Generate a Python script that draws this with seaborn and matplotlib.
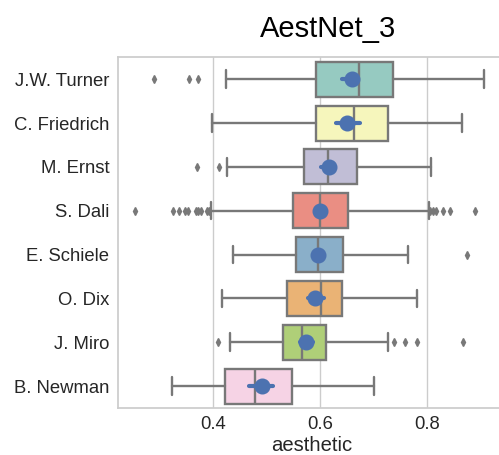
import numpy as np
import seaborn as sns
import matplotlib
matplotlib.use("Agg")
import matplotlib.pyplot as plt

# values
painters = ["J.W. Turner", "C. Friedrich", "M. Ernst", "S. Dali",
            "E. Schiele", "O. Dix", "J. Miro", "B. Newman"]
whis_lo = [0.424, 0.399, 0.427, 0.397, 0.438, 0.417, 0.432, 0.324]
q1 = [0.592, 0.593, 0.570, 0.549, 0.556, 0.539, 0.531, 0.422]
median = [0.673, 0.663, 0.614, 0.600, 0.597, 0.602, 0.567, 0.478]
q3 = [0.736, 0.727, 0.668, 0.652, 0.642, 0.640, 0.612, 0.547]
whis_hi = [0.906, 0.865, 0.806, 0.803, 0.764, 0.780, 0.727, 0.700]
outliers = [
    [0.290, 0.355, 0.372],
    [],
    [0.370, 0.412],
    [0.255, 0.325, 0.338, 0.348, 0.354, 0.368, 0.373, 0.379, 0.389, 0.393,
     0.805, 0.811, 0.816, 0.829, 0.842, 0.888],
    [0.873],
    [],
    [0.409, 0.738, 0.759, 0.780, 0.867],
    [],
]
means = [0.659, 0.651, 0.616, 0.600, 0.597, 0.591, 0.573, 0.491]
ci_lo = [0.640, 0.629, 0.602, 0.594, 0.590, 0.577, 0.562, 0.468]
ci_hi = [0.668, 0.674, 0.628, 0.606, 0.604, 0.607, 0.586, 0.512]

sns.set_theme(style="whitegrid")
plt.rcParams['font.family'] = ['Liberation Sans', 'DejaVu Sans']

fig = plt.figure(figsize=(4.99, 4.55), dpi=100)
# right edge of the axes runs just past the picture, as in the reference
ax = fig.add_axes([0.2355, 0.1033, 0.7768, 0.7708])

colors = sns.color_palette("Set3", len(painters), desat=0.75)
line_gray = (0.47, 0.47, 0.47)

stats = []
for i, name in enumerate(painters):
    stats.append({
        'label': name, 'whislo': whis_lo[i], 'q1': q1[i], 'med': median[i],
        'q3': q3[i], 'whishi': whis_hi[i], 'fliers': outliers[i],
    })

bp = ax.bxp(stats, positions=range(len(painters)), vert=False, widths=0.8,
            patch_artist=True, manage_ticks=False,
            boxprops=dict(edgecolor=line_gray, linewidth=1.7),
            medianprops=dict(color=line_gray, linewidth=1.7),
            whiskerprops=dict(color=line_gray, linewidth=1.7),
            capprops=dict(color=line_gray, linewidth=1.7),
            flierprops=dict(marker='d', markersize=4, markerfacecolor=line_gray,
                            markeredgecolor=line_gray))
for patch, c in zip(bp['boxes'], colors):
    patch.set_facecolor(c)

# confidence intervals of the mean
for i in range(len(painters)):
    ax.plot([ci_lo[i], ci_hi[i]], [i, i], color="#4C72B0", linewidth=3, zorder=9,
            solid_capstyle='round')

sns.pointplot(x=means, y=painters, orient="h", errorbar=None, linestyle="none",
              color="#4C72B0", markers="o", markersize=9.5, ax=ax, zorder=10)

ax.set_xlim(0.2225, 0.945)
ax.set_ylim(len(painters) - 0.5, -0.5)
ax.set_xticks([0.4, 0.6, 0.8])
ax.yaxis.grid(False)
ax.tick_params(axis='both', labelsize=13.3, colors='.15', length=0)
ax.tick_params(axis='x', pad=5.5)
ax.tick_params(axis='y', pad=6)
ax.set_xlabel("aesthetic", fontsize=14.6, color='.15', labelpad=2.5)
ax.set_ylabel("")
ax.set_title("AestNet_3", fontsize=21, x=0.543, pad=14.8, color='black')

fig.savefig("out.png", dpi=100)
